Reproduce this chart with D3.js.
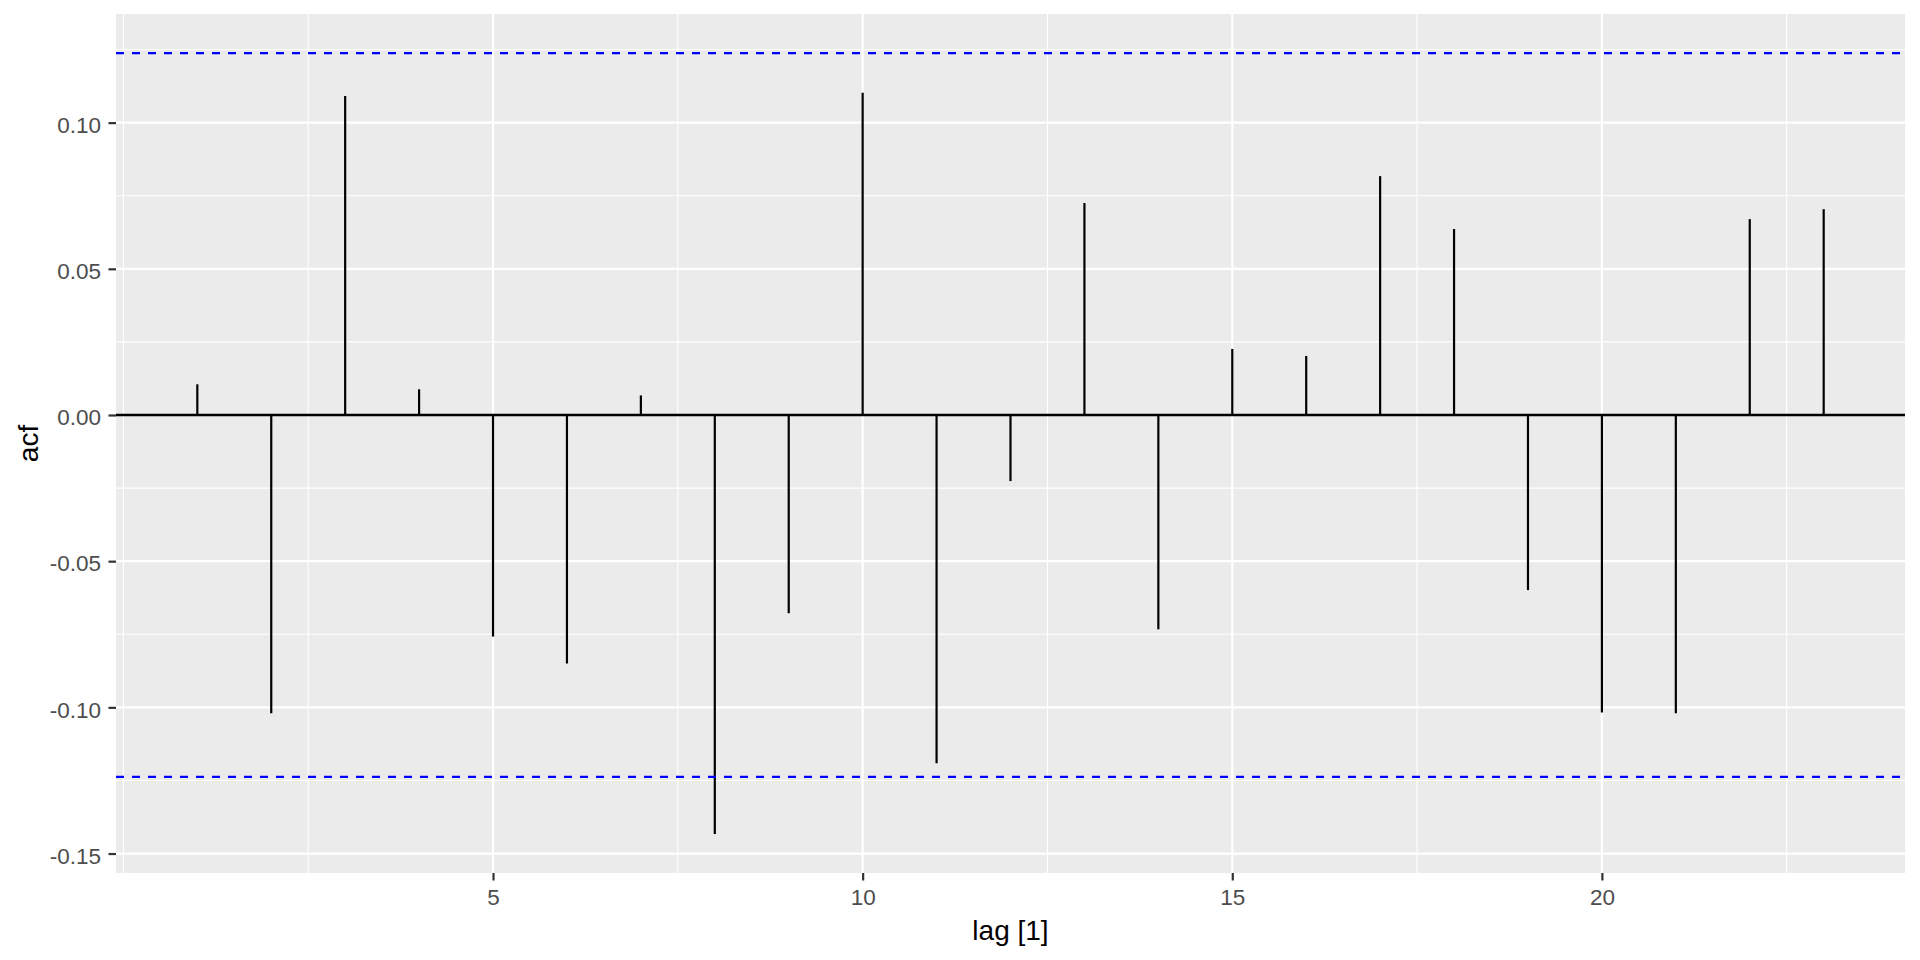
<!DOCTYPE html>
<html>
<head>
<meta charset="utf-8">
<script src="https://cdn.jsdelivr.net/npm/d3@7"></script>
<style>
  body { margin: 0; background: #fff; }
  svg text { font-family: "Liberation Sans", Arial, sans-serif; }
</style>
</head>
<body>
<svg id="drawing_region"></svg>
<script>
// acf values per lag
const lags = [1, 2, 3, 4, 5, 6, 7, 8, 9, 10, 11, 12, 13, 14, 15, 16, 17, 18, 19, 20, 21, 22, 23];
const acfValues = [0.0105, -0.1020, 0.1091, 0.0088, -0.0758, -0.0850, 0.0067, -0.1433, -0.0678, 0.1102,
                   -0.1191, -0.0226, 0.0725, -0.0733, 0.0226, 0.0202, 0.0817, 0.0636, -0.0599, -0.1018,
                   -0.1020, 0.0670, 0.0704];
const ciBound = 0.1238;
const xTicks = [5, 10, 15, 20];
const xMinor = [0, 2.5, 7.5, 12.5, 17.5, 22.5];
const yTicks = [-0.15, -0.10, -0.05, 0.00, 0.05, 0.10];
const yMinor = [-0.125, -0.075, -0.025, 0.025, 0.075, 0.125];

const config = {
    width: 1920,
    height: 960,
    margin: { top: 14, right: 15, bottom: 87, left: 116 }
};

const data = lags.map((l, i) => ({ lag: l, acf: acfValues[i] }));

const svg = d3.select('#drawing_region')
    .attr('width', config.width)
    .attr('height', config.height);

const innerW = config.width - config.margin.left - config.margin.right;
const innerH = config.height - config.margin.top - config.margin.bottom;

// ggplot style 5% expansion
const xr = d3.extent(lags);
const xpad = (xr[1] - xr[0]) * 0.05;
const ylo = Math.min(d3.min(acfValues), -ciBound);
const yhi = Math.max(d3.max(acfValues), ciBound);
const ypad = (yhi - ylo) * 0.05;

const xscale = d3.scaleLinear()
    .domain([xr[0] - xpad, xr[1] + xpad])
    .range([0, innerW]);
const yscale = d3.scaleLinear()
    .domain([ylo - ypad, yhi + ypad])
    .range([innerH, 0]);

const chart = svg.append('g')
    .attr('transform', `translate(${config.margin.left}, ${config.margin.top})`);

// panel
chart.append('rect')
    .attr('width', innerW)
    .attr('height', innerH)
    .attr('fill', '#EBEBEB');

// grid
chart.selectAll('.yminor').data(yMinor).enter().append('line')
    .attr('x1', 0).attr('x2', innerW)
    .attr('y1', d => yscale(d)).attr('y2', d => yscale(d))
    .attr('stroke', 'white').attr('stroke-width', 1.1);
chart.selectAll('.xminor').data(xMinor).enter().append('line')
    .attr('y1', 0).attr('y2', innerH)
    .attr('x1', d => xscale(d)).attr('x2', d => xscale(d))
    .attr('stroke', 'white').attr('stroke-width', 1.1);
chart.selectAll('.ymajor').data(yTicks).enter().append('line')
    .attr('x1', 0).attr('x2', innerW)
    .attr('y1', d => yscale(d)).attr('y2', d => yscale(d))
    .attr('stroke', 'white').attr('stroke-width', 2.2);
chart.selectAll('.xmajor').data(xTicks).enter().append('line')
    .attr('y1', 0).attr('y2', innerH)
    .attr('x1', d => xscale(d)).attr('x2', d => xscale(d))
    .attr('stroke', 'white').attr('stroke-width', 2.2);

// zero line
chart.append('line')
    .attr('x1', 0).attr('x2', innerW)
    .attr('y1', yscale(0)).attr('y2', yscale(0))
    .attr('stroke', 'black').attr('stroke-width', 2.5);

// stems
chart.selectAll('.stem').data(data).enter().append('line')
    .attr('x1', d => xscale(d.lag)).attr('x2', d => xscale(d.lag))
    .attr('y1', yscale(0)).attr('y2', d => yscale(d.acf))
    .attr('stroke', 'black').attr('stroke-width', 2.2);

// confidence bounds
chart.selectAll('.ci').data([ciBound, -ciBound]).enter().append('line')
    .attr('x1', 0).attr('x2', innerW)
    .attr('y1', d => yscale(d)).attr('y2', d => yscale(d))
    .attr('stroke', '#0000FF').attr('stroke-width', 2.3)
    .attr('stroke-dasharray', '8,8');

// axes
const xAxis = d3.axisBottom(xscale).tickValues(xTicks).tickFormat(d => String(d))
    .tickSize(7.5).tickPadding(9);
const yAxis = d3.axisLeft(yscale).tickValues(yTicks).tickFormat(d => d.toFixed(2))
    .tickSize(7.5).tickPadding(7.5);

const gx = chart.append('g')
    .attr('transform', `translate(0, ${innerH})`)
    .call(xAxis);
const gy = chart.append('g').call(yAxis);

[gx, gy].forEach(g => {
    g.select('.domain').remove();
    g.selectAll('.tick line').attr('stroke', '#333333').attr('stroke-width', 2.2);
    g.selectAll('.tick text')
        .attr('fill', '#4D4D4D')
        .style('font-size', '22.5px')
        .style('font-family', '"Liberation Sans", Arial, sans-serif');
});
gy.selectAll('.tick text').attr('dy', '0.43em');

// axis titles
svg.append('text')
    .attr('x', config.margin.left + innerW / 2)
    .attr('y', 940)
    .attr('text-anchor', 'middle')
    .style('font-size', '28px')
    .attr('fill', 'black')
    .text('lag [1]');

svg.append('text')
    .attr('transform', `translate(38, ${config.margin.top + innerH / 2}) rotate(-90)`)
    .attr('text-anchor', 'middle')
    .style('font-size', '28px')
    .attr('fill', 'black')
    .text('acf');
</script>
</body>
</html>
